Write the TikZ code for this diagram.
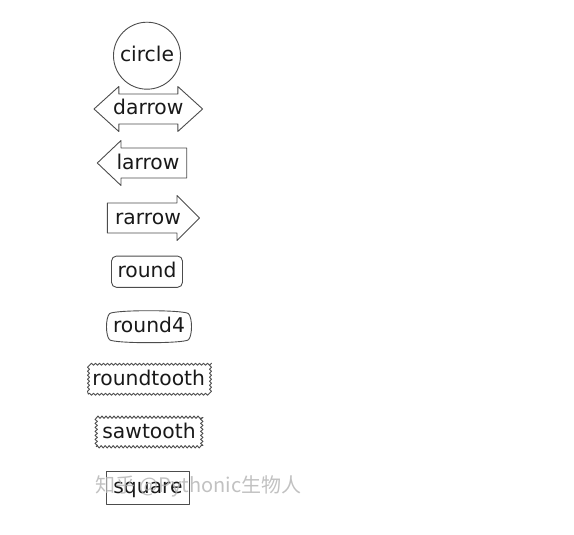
\documentclass[tikz,border=0pt]{standalone}
\usepackage{fontspec}
\setmainfont{DejaVu Sans}
\newfontfamily\cjkfont{Noto Sans CJK SC}
\usetikzlibrary{decorations.pathmorphing}
\begin{document}
\begin{tikzpicture}[x=1pt,y=-1pt,
  lbl/.style={inner sep=0pt, text height=14pt, text depth=2pt,
    font=\fontsize{20.3}{24}\selectfont, text=black!90},
  shp/.style={draw=black!70, line width=0.9pt, line join=round},
  wmark/.style={inner sep=0pt, font=\cjkfont\fontsize{20}{24}\selectfont,
    text=black!30, opacity=0.8}]
\useasboundingbox (0,0) rectangle (574,535);
% circle
\node[lbl,shp,circle,minimum size=67pt] (circ) at (147,55.7) {circle};
% darrow
\node[lbl] (darr) at (148.3,109) {darrow};
\draw[shp,shift={(darr.center)}] (-54.3,0) -- (-29.5,-22.5) -- (-29.5,-15)
  -- (29.5,-15) -- (29.5,-22.5) -- (54.3,0) -- (29.5,22.5) -- (29.5,15)
  -- (-29.5,15) -- (-29.5,22.5) -- cycle;
% larrow
\node[lbl] (larr) at (148,163) {larrow};
\draw[shp,shift={(larr.center)}] (-50.7,0) -- (-27,-22.5) -- (-27,-15)
  -- (38.7,-15) -- (38.7,15) -- (-27,15) -- (-27,22.5) -- cycle;
% rarrow
\node[lbl] (rarr) at (148,218) {rarrow};
\draw[shp,shift={(rarr.center)}] (-40.7,-15) -- (29,-15) -- (29,-22.5)
  -- (51.5,0) -- (29,22.5) -- (29,15) -- (-40.7,15) -- cycle;
% round
\node[lbl,shp,rounded corners=5pt,minimum width=71pt,minimum height=31.3pt]
  (rnd) at (147,271.7) {round};
% round4
\node[lbl] (rnd4) at (149,326.7) {round4};
\draw[shp,shift={(rnd4.center)}] (-39.5,-13)
  .. controls (-35.5,-17) and (35.5,-17) .. (39.5,-13)
  .. controls (43.5,-9) and (43.5,9) .. (39.5,13)
  .. controls (35.5,17) and (-35.5,17) .. (-39.5,13)
  .. controls (-43.5,9) and (-43.5,-9) .. (-39.5,-13) -- cycle;
% roundtooth
\node[lbl,shp,minimum width=121pt,minimum height=29.5pt,decorate,
  decoration={snake,segment length=4pt,amplitude=1pt}]
  (rtooth) at (148.7,379.5) {roundtooth};
% sawtooth
\node[lbl,shp,minimum width=105.6pt,minimum height=29.6pt,decorate,
  decoration={zigzag,segment length=4pt,amplitude=1.2pt}]
  (stooth) at (149,432) {sawtooth};
% square
\node[lbl,shp,minimum width=82.6pt,minimum height=33.3pt]
  (sq) at (148,487.7) {square};
% watermark
\node[wmark,anchor=west] (wm) at (95,486) {知乎 @Pythonic生物人};
\end{tikzpicture}
\end{document}
